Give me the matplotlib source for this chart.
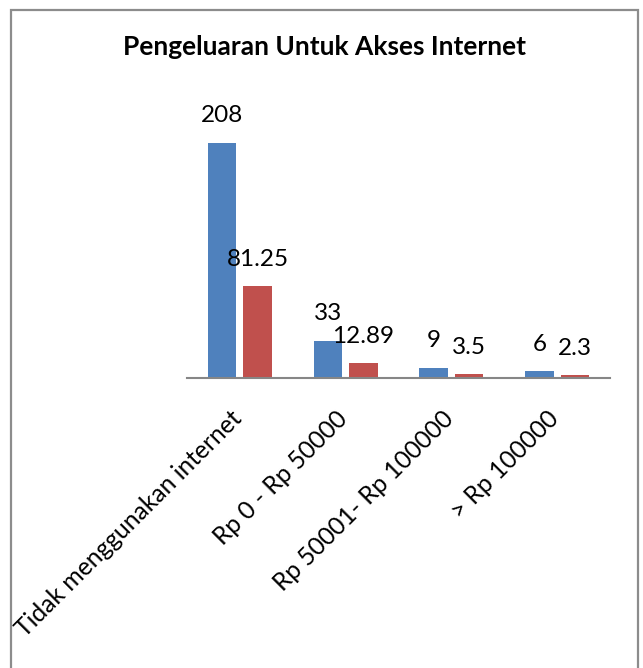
import matplotlib
matplotlib.use('Agg')
import matplotlib.pyplot as plt
import matplotlib.patches as patches
import matplotlib.transforms as mtransforms
import numpy as np

plt.rcParams['font.family'] = ['Lato', 'DejaVu Sans']

# ------------ data ----------------- #
categories = ['Tidak menggunakan internet', 'Rp 0 - Rp 50000',
              'Rp 50001- Rp 100000', '> Rp 100000']
jumlah = [208, 33, 9, 6]
persen = [81.25, 12.89, 3.5, 2.3]
jumlah_lbl = ['208', '33', '9', '6']
persen_lbl = ['81.25', '12.89', '3.5', '2.3']

title = 'Pengeluaran Untuk Akses Internet'

# ------------ figure ----------------- #
W, H = 643, 668
figure = plt.figure(figsize=(W / 100, H / 100), dpi=100)

# chart-area border
figure.patches.append(patches.Rectangle((11 / W, -0.05), 627 / W, 1.05 - 10 / H,
                                        transform=figure.transFigure, fill=False,
                                        edgecolor='#8c8c8c', linewidth=1.6))

ax = figure.add_axes([187 / W, 1 - 378 / H, 423 / W, 282.5 / H])

x = np.arange(len(categories))
bw = 0.27
off = 0.168
b1 = ax.bar(x - off, jumlah, bw, color='#4F81BD')
b2 = ax.bar(x + off, persen, bw, color='#C0504D')

for rect, s in zip(b1, jumlah_lbl):
    ax.annotate(s, (rect.get_x() + rect.get_width() / 2, rect.get_height()),
                xytext=(0, 27), textcoords='offset pixels',
                ha='center', va='center', fontsize=17.5)
for rect, s in zip(b2, persen_lbl):
    ax.annotate(s, (rect.get_x() + rect.get_width() / 2, rect.get_height()),
                xytext=(0, 27), textcoords='offset pixels',
                ha='center', va='center', fontsize=17.5)

ax.set_xlim(-0.5, len(categories) - 0.5)
ax.set_ylim(0, 250)
ax.set_yticks([])
ax.set_xticks([])

# category labels, rotated 45 deg, ending just under each group
lbl_trans = ax.get_xaxis_transform() + mtransforms.ScaledTranslation(
    -0.02, -0.37, figure.dpi_scale_trans)
for xi, c in zip(x, categories):
    ax.text(xi, 0, c, transform=lbl_trans, fontsize=17.7, rotation=45,
            ha='right', va='center', rotation_mode='anchor')

for s in ['top', 'right', 'left']:
    ax.spines[s].set_visible(False)
ax.spines['bottom'].set_color('#868686')
ax.spines['bottom'].set_linewidth(1.5)

figure.text(0.5 * (11 + 638) / W, 1 - 47 / H, title, ha='center', va='center',
            fontsize=19, fontweight='bold')

plt.savefig('out.png', dpi=100)
